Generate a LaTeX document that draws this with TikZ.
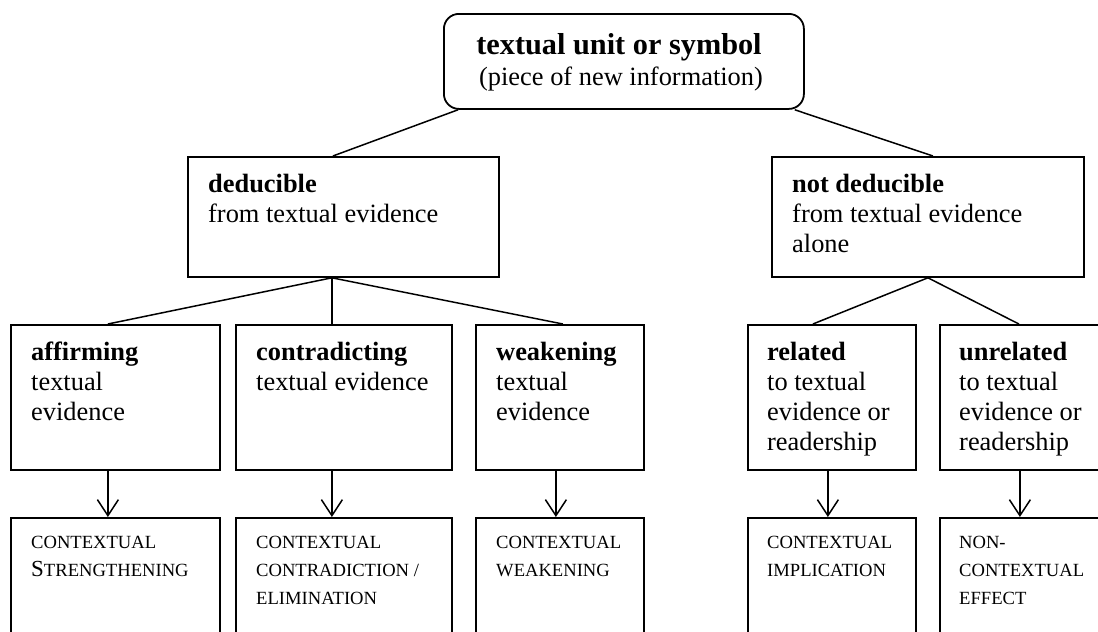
\documentclass[tikz,border=0pt]{standalone}
\usepackage{fontspec}
\setmainfont{Liberation Serif}
\usetikzlibrary{arrows.meta,calc}
\begin{document}
\begin{tikzpicture}[x=1pt,y=-1pt,
  box/.style={draw,line width=1.8pt,anchor=north west,inner sep=0pt},
  conn/.style={line width=1.5pt},
  arr/.style={line width=1.5pt,-{Straight Barb[length=16pt,width=21pt,line width=1.5pt]}},
  txt/.style={anchor=north west,inner sep=0pt,align=left,font=\fontsize{26.4}{30}\selectfont},
  sctxt/.style={anchor=north west,inner sep=0pt,align=left,font=\fontsize{18.6}{28}\selectfont},
  big/.style={anchor=base,inner sep=0pt,font=\fontsize{30.3}{34}\selectfont\bfseries},
  sub/.style={anchor=base,inner sep=0pt,font=\fontsize{26.4}{30}\selectfont},
]
\useasboundingbox (0,0) rectangle (1098,632);
\clip (0,0) rectangle (1098,632);

% top
\node[box,rounded corners=15pt,minimum width=360pt,minimum height=95pt] (top) at (443,13) {};
\node[big] (topt1) at (619,54) {textual unit or symbol};
\node[sub] (topt2) at (621,85) {(piece of new information)};

% level 2
\node[box,minimum width=311pt,minimum height=120pt] (ded) at (187,156) {};
\node[txt] (dedt) at (208,171) {\strut\textbf{deducible}\\from textual evidence};
\node[box,minimum width=312pt,minimum height=120pt] (nd) at (771,156) {};
\node[txt] (ndt) at (792,171) {\strut\textbf{not deducible}\\from textual evidence\\alone};

% level 3
\node[box,minimum width=209pt,minimum height=145pt] (aff) at (10,324) {};
\node[txt] (afft) at (31,339) {\strut\textbf{affirming}\\textual\\evidence};
\node[box,minimum width=216pt,minimum height=145pt] (con) at (235,324) {};
\node[txt] (cont) at (256,339) {\strut\textbf{contradicting}\\textual evidence};
\node[box,minimum width=168pt,minimum height=145pt] (wea) at (475,324) {};
\node[txt] (weat) at (496,339) {\strut\textbf{weakening}\\textual\\evidence};
\node[box,minimum width=168pt,minimum height=145pt] (rel) at (747,324) {};
\node[txt] (relt) at (767,339) {\strut\textbf{related}\\to textual\\evidence or\\readership};
\node[box,minimum width=168pt,minimum height=145pt] (unr) at (939,324) {};
\node[txt] (unrt) at (959,339) {\strut\textbf{unrelated}\\to textual\\evidence or\\readership};

% level 4
\node[box,minimum width=209pt,minimum height=150pt] (aff2) at (10,517) {};
\node[sctxt] (aff2t) at (31,528.4) {\strut CONTEXTUAL\\{\fontsize{23}{28}\selectfont S}TRENGTHENING};
\node[box,minimum width=216pt,minimum height=150pt] (con2) at (235,517) {};
\node[sctxt] (con2t) at (256,528.4) {\strut CONTEXTUAL\\CONTRADICTION /\\ELIMINATION};
\node[box,minimum width=168pt,minimum height=150pt] (wea2) at (475,517) {};
\node[sctxt] (wea2t) at (496,528.4) {\strut CONTEXTUAL\\WEAKENING};
\node[box,minimum width=168pt,minimum height=150pt] (rel2) at (747,517) {};
\node[sctxt] (rel2t) at (767,528.4) {\strut CONTEXTUAL\\IMPLICATION};
\node[box,minimum width=168pt,minimum height=150pt] (unr2) at (939,517) {};
\node[sctxt] (unr2t) at (959,528.4) {\strut NON-\\CONTEXTUAL\\EFFECT};

% connectors
\draw[conn] ([xshift=15pt]top.south west) -- ([xshift=-10.5pt]ded.north);
\draw[conn] ([xshift=-10pt]top.south east) -- ([xshift=5pt]nd.north);
\draw[conn] ([xshift=-11.5pt]ded.south) -- ([xshift=-7.5pt]aff.north);
\draw[conn] ([xshift=-11.5pt]ded.south) -- ([xshift=-12pt]con.north);
\draw[conn] ([xshift=-11.5pt]ded.south) -- ([xshift=3pt]wea.north);
\draw[conn] (nd.south) -- ([xshift=-19pt]rel.north);
\draw[conn] (nd.south) -- ([xshift=-5pt]unr.north);

% arrows
\draw[arr] ([xshift=-7.5pt]aff.south) -- ([xshift=-7.5pt]aff2.north);
\draw[arr] ([xshift=-12pt]con.south) -- ([xshift=-12pt]con2.north);
\draw[arr] ([xshift=-4pt]wea.south) -- ([xshift=-4pt]wea2.north);
\draw[arr] ([xshift=-4pt]rel.south) -- ([xshift=-4pt]rel2.north);
\draw[arr] ([xshift=-4pt]unr.south) -- ([xshift=-4pt]unr2.north);
\end{tikzpicture}
\end{document}
